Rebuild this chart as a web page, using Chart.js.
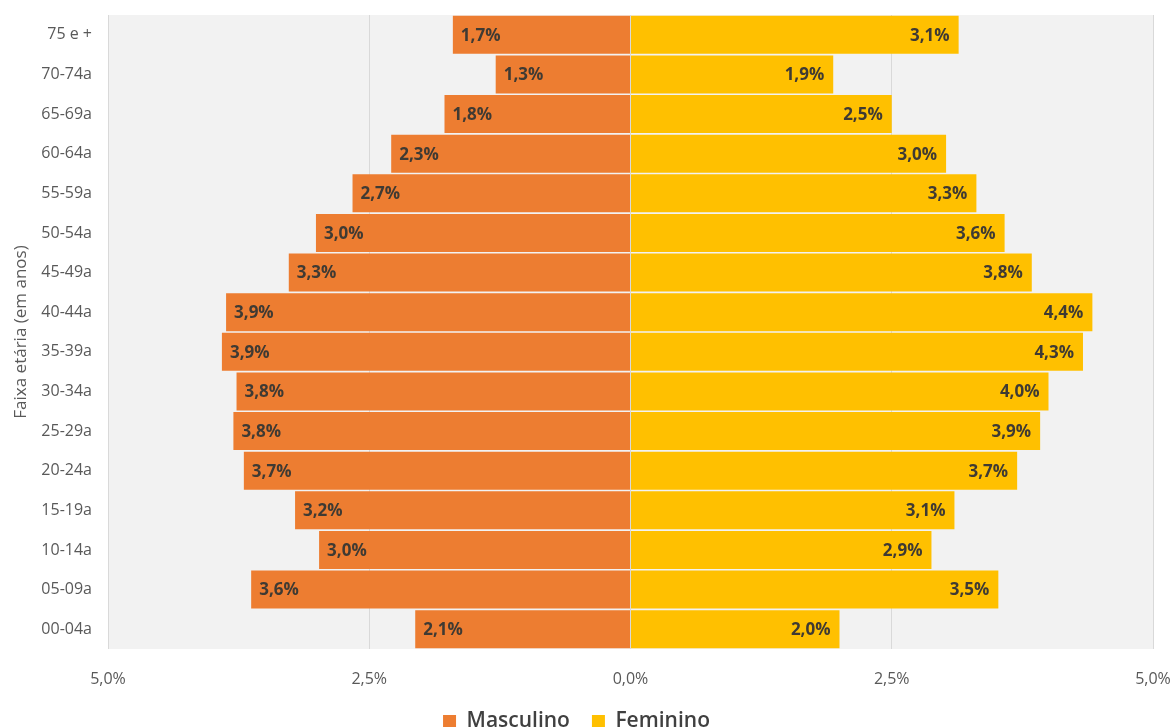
<!DOCTYPE html>
<html>
<head>
<meta charset="utf-8">
<script src="https://cdn.jsdelivr.net/npm/chart.js@4"></script>
<style>
  html, body { margin: 0; padding: 0; background: #fff; }
  #wrap { width: 1176px; height: 727px; position: relative; }
</style>
</head>
<body>
<div id="wrap"><canvas id="pyramid"></canvas></div>
<script>
  /* ---------- Data ---------- */
  var AGE_GROUPS = ['75 e +', '70-74a', '65-69a', '60-64a', '55-59a', '50-54a', '45-49a', '40-44a',
    '35-39a', '30-34a', '25-29a', '20-24a', '15-19a', '10-14a', '05-09a', '00-04a'];
  var MALE = [1.70, 1.29, 1.78, 2.29, 2.66, 3.01, 3.27, 3.87, 3.91, 3.77, 3.80, 3.70, 3.21, 2.98, 3.63, 2.06];
  var FEMALE = [3.14, 1.94, 2.50, 3.02, 3.31, 3.58, 3.84, 4.42, 4.33, 4.00, 3.92, 3.70, 3.10, 2.88, 3.52, 2.00];
  var X_TICKS = [-5, -2.5, 0, 2.5, 5];

  var FONT = "'Open Sans', sans-serif";
  var GREY = '#595959';

  function pct(v) {
    return Math.abs(v).toFixed(1).replace('.', ',') + '%';
  }

  /* ---------- Plugins ---------- */
  var plotBackground = {
    id: 'plotBackground',
    beforeDraw: function (chart) {
      var a = chart.chartArea, ctx = chart.ctx;
      ctx.save();
      ctx.fillStyle = '#f2f2f2';
      ctx.fillRect(a.left, a.top, a.right - a.left, a.bottom - a.top);
      ctx.restore();
    }
  };

  var barLabels = {
    id: 'barLabels',
    afterDatasetsDraw: function (chart) {
      var ctx = chart.ctx;
      ctx.save();
      ctx.font = 'bold 17px ' + FONT;
      ctx.fillStyle = '#3f3a33';
      ctx.textBaseline = 'middle';
      chart.data.datasets.forEach(function (ds, di) {
        chart.getDatasetMeta(di).data.forEach(function (bar, i) {
          var v = ds.data[i];
          if (v < 0) {
            ctx.textAlign = 'left';
            ctx.fillText(pct(v), bar.x + 8, bar.y + 1);
          } else {
            ctx.textAlign = 'right';
            ctx.fillText(pct(v), bar.x - 9, bar.y + 1);
          }
        });
      });
      ctx.restore();
    }
  };

  /* ---------- Chart ---------- */
  new Chart(document.getElementById('pyramid'), {
    type: 'bar',
    data: {
      labels: AGE_GROUPS,
      datasets: [
        { label: 'Masculino', data: MALE.map(function (v) { return -v; }), backgroundColor: '#ed7d31',
          barPercentage: 0.96, categoryPercentage: 1 },
        { label: 'Feminino', data: FEMALE, backgroundColor: '#ffc000',
          barPercentage: 0.96, categoryPercentage: 1 }
      ]
    },
    options: {
      indexAxis: 'y',
      responsive: true,
      maintainAspectRatio: false,
      animation: false,
      layout: { padding: { top: 15, right: 23, left: 0, bottom: -15 } },
      plugins: {
        legend: {
          position: 'bottom',
          labels: {
            boxWidth: 13, boxHeight: 13, padding: 22,
            color: '#404040',
            font: { family: FONT, size: 21, weight: '600' }
          }
        },
        tooltip: { enabled: false }
      },
      scales: {
        x: {
          stacked: true,
          min: -5, max: 5,
          afterBuildTicks: function (scale) {
            scale.ticks = X_TICKS.map(function (v) { return { value: v }; });
          },
          afterFit: function (scale) {
            scale.height = 40;
            scale.paddingLeft = 0;
            scale.paddingRight = 0;
          },
          grid: { color: '#d9d9d9', drawTicks: false },
          border: { display: false },
          ticks: {
            padding: 21,
            color: GREY,
            font: { family: FONT, size: 16 },
            callback: function (v) { return pct(v); }
          }
        },
        y: {
          stacked: true,
          afterFit: function (scale) {
            scale.width = 108;
            scale.paddingTop = 0;
            scale.paddingBottom = 0;
          },
          grid: { display: false, drawTicks: false },
          border: { display: false },
          title: {
            display: true,
            text: 'Faixa etária (em anos)',
            color: GREY,
            font: { family: FONT, size: 17 },
            padding: { top: 11, bottom: 0 }
          },
          ticks: {
            color: GREY,
            padding: 16,
            font: { family: FONT, size: 16 }
          }
        }
      }
    },
    plugins: [plotBackground, barLabels]
  });
</script>
</body>
</html>
